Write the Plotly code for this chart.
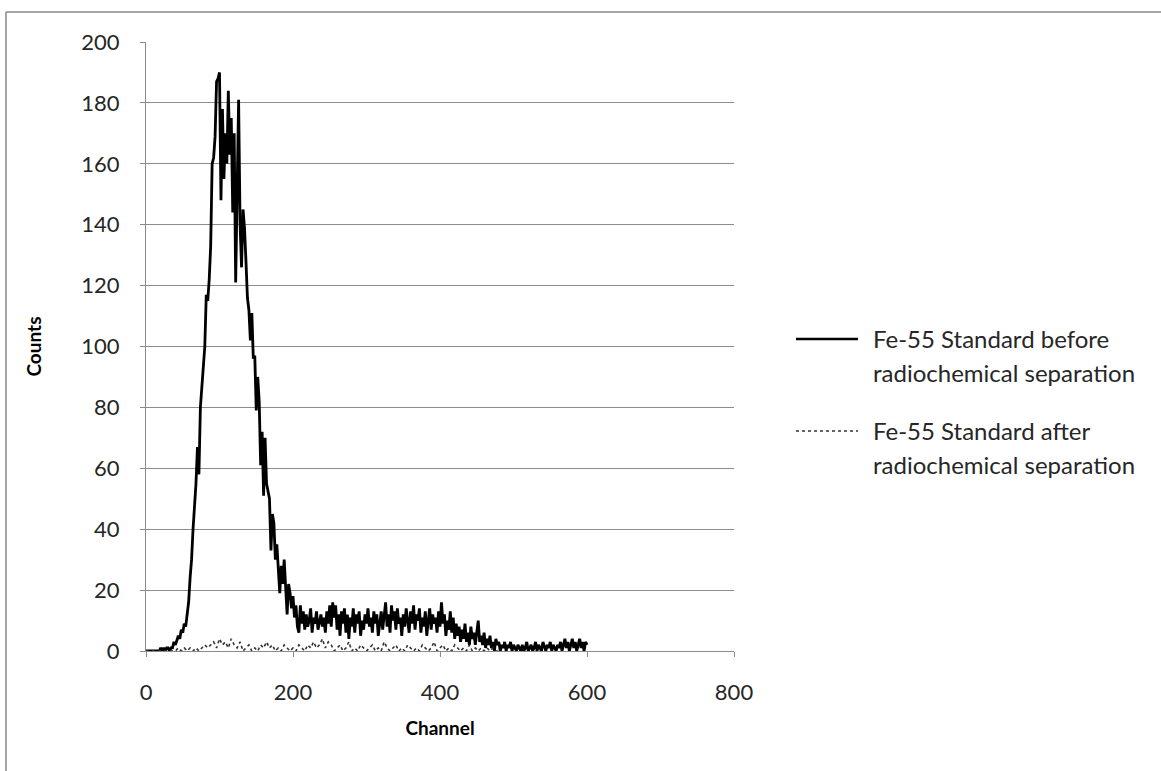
import plotly.graph_objects as go

# ---- data ----
before_channel = list(range(0, 602, 2))
before_counts = [
    # 0-34
    0, 0, 0, 0, 0, 0, 0, 0, 0, 0, 1, 0, 1, 0, 1, 1, 0, 1,
    # 36-50
    1, 3, 2, 4, 5, 4, 7, 6,
    # 52-80
    9, 8, 12, 16, 24, 30, 40, 47, 55, 67, 58, 80, 86, 91, 100,
    # 82-100
    117, 115, 122, 133, 160, 162, 169, 187, 188, 190,
    # 102-210
    148, 178, 155, 170, 160, 184, 163, 175, 144, 170, 121, 150, 181, 140, 126,
    145, 139, 128, 116, 112, 102, 111, 96, 97, 79, 90, 82, 61, 72, 51, 70, 55,
    52, 50, 33, 45, 42, 30, 35, 26, 19, 28, 22, 30, 18, 12, 22, 19, 14, 18,
    11, 15, 8, 6, 15,
    # 212-300
    9, 13, 7, 12, 8, 10, 14, 6, 11, 9, 13, 7, 10, 12, 8, 11, 6, 13, 9, 15,
    8, 16, 11, 15, 7, 12, 5, 13, 9, 14, 6, 12, 4, 11, 8, 14, 6, 12, 9, 13,
    5, 10, 7, 12, 9,
    # 302-420
    14, 8, 11, 6, 13, 9, 12, 5, 10, 13, 7, 11, 16, 8, 12, 6, 15, 10, 13, 7,
    14, 9, 11, 5, 12, 8, 14, 10, 6, 13, 9, 15, 7, 12, 10, 14, 6, 11, 8, 13,
    5, 10, 14, 7, 12, 9, 11, 6, 13, 8, 16, 9, 12, 5, 10, 7, 13, 6, 11, 4,
    # 422-500
    9, 5, 8, 3, 7, 4, 9, 3, 6, 2, 8, 4, 6, 2, 7, 10, 3, 5, 2, 6,
    1, 4, 2, 5, 1, 3, 0, 4, 2, 3, 0, 2, 1, 3, 0, 2, 1, 3, 0, 2,
    # 502-600
    1, 0, 2, 1, 0, 2, 0, 1, 3, 0, 1, 2, 0, 1, 3, 0, 2, 1, 0, 3,
    1, 0, 2, 1, 3, 0, 2, 1, 0, 2, 1, 3, 0, 2, 4, 1, 3, 0, 2, 4,
    1, 3, 0, 2, 4, 1, 3, 0, 3, 2,
]

after_channel = list(range(0, 484, 4))
after_counts = [
    0, 0, 0, 0, 0, 0, 0, 0, 0, 0, 0,
    1, 0, 1, 0, 1, 0, 1, 0, 1, 2, 1, 2, 3, 1, 4, 2, 3, 1, 4, 2,
    1, 3, 0, 1, 2, 0, 1, 0, 2, 1, 3, 1, 2, 0, 1, 0, 2, 1, 0, 1,
    0, 2, 1, 0, 2, 1, 3, 1, 2, 4, 1, 3, 2, 0, 1, 2, 0, 1, 3, 0,
    1, 0, 2, 1, 0, 1, 2, 0, 1, 0, 3, 1, 0, 1, 2, 0, 1, 0, 2, 1,
    0, 1, 0, 2, 1, 0, 1, 3, 0, 1, 2, 0, 1, 0, 2, 1, 0, 1, 0, 2,
    0, 1, 0, 1, 0, 1, 0, 1, 0, 0,
]

series_names = [
    ["Fe-55 Standard before", "radiochemical separation"],
    ["Fe-55 Standard after", "radiochemical separation"],
]

y_ticks = list(range(0, 201, 20))
x_ticks = list(range(0, 801, 200))

FONT = "Lato, 'Liberation Sans', sans-serif"
GRID = "#8c8c8c"

fig = go.Figure()
fig.add_trace(go.Scatter(
    x=before_channel, y=before_counts, mode="lines",
    line=dict(color="black", width=2.8), name=" ".join(series_names[0]),
    showlegend=False,
))
fig.add_trace(go.Scatter(
    x=after_channel[:len(after_counts)], y=after_counts, mode="lines",
    line=dict(color="#333333", width=1.6, dash="dot"), name=" ".join(series_names[1]),
    showlegend=False,
))

L, R, T, B = 146, 427, 42, 120
W, H = 1161, 771
pw, ph = W - L - R, H - T - B

def px(x):
    return (x - L) / pw

def py(y):
    return (H - B - y) / ph

shapes = [
    # chart border (left and top visible)
    dict(type="line", xref="paper", yref="paper", x0=px(6), x1=px(1175), y0=py(12), y1=py(12),
         line=dict(color="#888888", width=1.5)),
    dict(type="line", xref="paper", yref="paper", x0=px(6), x1=px(6), y0=py(12), y1=py(790),
         line=dict(color="#888888", width=1.5)),
    # legend samples
    dict(type="line", xref="paper", yref="paper", x0=px(796), x1=px(858), y0=py(339), y1=py(339),
         line=dict(color="black", width=2.6)),
    dict(type="line", xref="paper", yref="paper", x0=px(796), x1=px(858), y0=py(431), y1=py(431),
         line=dict(color="#333333", width=1.6, dash="dot")),
]

annotations = []
for (l1, l2), y1 in zip(series_names, [338, 430]):
    for txt, yy in [(l1, y1), (l2, y1 + 34)]:
        annotations.append(dict(
            text=txt, xref="paper", yref="paper", x=px(871), y=py(yy),
            xanchor="left", yanchor="middle", showarrow=False,
            font=dict(family=FONT, size=24, color="#262626"),
        ))

fig.update_layout(
    width=W, height=H,
    margin=dict(l=L, r=R, t=T, b=B, pad=0),
    paper_bgcolor="white", plot_bgcolor="white",
    font=dict(family=FONT, size=21, color="#262626"),
    shapes=shapes, annotations=annotations,
    showlegend=False,
)
fig.update_xaxes(
    range=[0, 800], tickvals=x_ticks, ticktext=[str(v) for v in x_ticks],
    showgrid=False, zeroline=False,
    showline=True, linecolor=GRID, linewidth=1.2,
    ticks="outside", ticklen=5, tickcolor=GRID, ticklabelstandoff=16,
    tickfont=dict(family=FONT, size=22, color="#262626"),
    title=dict(text="<b>Channel</b>", font=dict(family=FONT, size=19, color="black"), standoff=18),
)
fig.update_yaxes(
    range=[0, 200], tickvals=y_ticks, ticktext=[str(v) for v in y_ticks],
    showgrid=True, gridcolor=GRID, gridwidth=1.2, zeroline=False,
    showline=True, linecolor=GRID, linewidth=1.2,
    ticks="outside", ticklen=5, tickcolor=GRID, ticklabelstandoff=16,
    tickfont=dict(family=FONT, size=22, color="#262626"),
    title=dict(text="<b>Counts</b>", font=dict(family=FONT, size=19, color="black"), standoff=34),
)

fig.write_html("out.html")
